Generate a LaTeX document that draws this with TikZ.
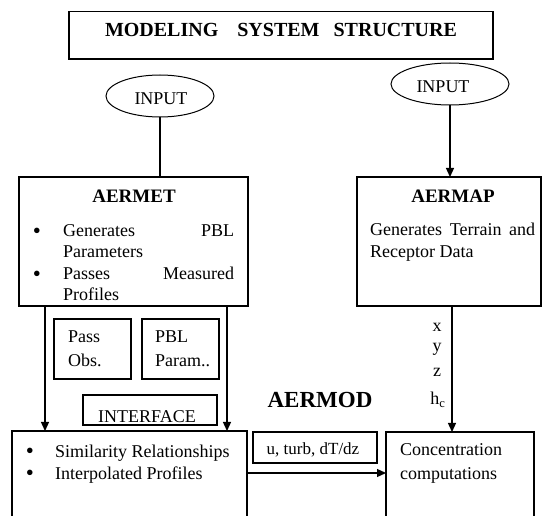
\documentclass[tikz,border=0pt]{standalone}
\usepackage{fontspec}
\setmainfont{Liberation Serif}
\usetikzlibrary{shapes.geometric,arrows.meta}
\begin{document}
\begin{tikzpicture}[x=1pt,y=-1pt,
  box/.style={draw, line width=1.4pt, inner sep=0pt, outer sep=0pt, anchor=north west},
  ell/.style={draw, ellipse, line width=1pt, inner sep=0pt, outer sep=0pt},
  conn/.style={line width=1.3pt},
  arr/.style={line width=1.3pt, -{Triangle[length=9pt,width=8pt]}},
  txt/.style={inner sep=0pt, anchor=base west, font=\fontsize{18}{21}\selectfont},
  ctxt/.style={inner sep=0pt, anchor=base, font=\fontsize{18}{21}\selectfont},
  btxt/.style={inner sep=0pt, anchor=base, font=\fontsize{19}{22}\selectfont\bfseries},
  bul/.style={inner sep=0pt, anchor=base, font=\fontsize{23}{21}\selectfont}]
\useasboundingbox (0,0) rectangle (542,516);
\clip (0,0) rectangle (542,516);
% boxes
\node[box, minimum width=424pt, minimum height=47.5pt] (title) at (69,11.5) {};
\node[box, minimum width=229pt, minimum height=129pt] (aermet) at (19,177) {};
\node[box, minimum width=184pt, minimum height=129pt] (aermap) at (357,177) {};
\node[box, minimum width=77pt, minimum height=60pt] (pass) at (54,319) {};
\node[box, minimum width=77pt, minimum height=60pt] (pbl) at (142,319) {};
\node[box, minimum width=134pt, minimum height=30pt] (iface) at (83,395) {};
\node[box, minimum width=235pt, minimum height=110pt] (sim) at (12,431) {};
\node[box, minimum width=124pt, minimum height=31pt] (uturb) at (253,432) {};
\node[box, minimum width=148pt, minimum height=110pt] (conc) at (386,432) {};
\node[ell, minimum width=108pt, minimum height=42pt] (in1) at (160,96) {};
\node[ell, minimum width=118pt, minimum height=42pt] (in2) at (450,84) {};
% texts
\node[inner sep=0pt, anchor=base, font=\fontsize{20}{24}\selectfont\bfseries] (ttl) at (281,37)
  {MODELING\hspace{19pt}SYSTEM\hspace{14pt}STRUCTURE};
\node[ctxt] (in1t) at (161,105) {INPUT};
\node[ctxt] (in2t) at (443,93) {INPUT};
\node[btxt] (aermett) at (134,203) {AERMET};
\node[bul] (b1) at (37,239) {\textbullet};
\node[txt] (g1) at (63,237) {\makebox[171pt][s]{Generates PBL}};
\node[txt] (g2) at (63,258) {Parameters};
\node[bul] (b2) at (37,282) {\textbullet};
\node[txt] (g3) at (63,280) {\makebox[171pt][s]{Passes Measured}};
\node[txt] (g4) at (63,301) {Profiles};
\node[txt] (p1) at (68,343) {Pass};
\node[txt] (p2) at (68,367) {Obs.};
\node[txt] (q1) at (155,343) {PBL};
\node[txt] (q2) at (155,367) {Param..};
\begin{scope}
  \clip (84,396) rectangle (216,422.5);
  \node[ctxt] (ifacet) at (147,423) {INTERFACE};
\end{scope}
\node[btxt, font=\fontsize{23}{26}\selectfont\bfseries] (aermod) at (320,408) {AERMOD};
\node[ctxt, font=\fontsize{17}{20}\selectfont] (ut) at (313,455) {u, turb, dT/dz};
\node[bul] (b3) at (30,459) {\textbullet};
\node[txt] (s1) at (55,457) {Similarity Relationships};
\node[bul] (b4) at (30,481) {\textbullet};
\node[txt] (s2) at (55,479) {Interpolated Profiles};
\node[txt] (c1) at (400,456) {Concentration};
\node[txt] (c2) at (400,480) {computations};
\node[btxt] (aermapt) at (453,203) {AERMAP};
\node[txt] (m1) at (370,236) {\makebox[165pt][s]{Generates Terrain and}};
\node[txt] (m2) at (370,258) {Receptor Data};
\node[ctxt] (lx) at (437,332) {x};
\node[ctxt] (ly) at (437,352) {y};
\node[ctxt] (lz) at (437,377) {z};
\node[ctxt] (lh) at (438,405) {h\textsubscript{c}};
% connectors
\draw[conn] (in1.south) -- (in1.south |- aermet.north);
\draw[arr] (in2.south) -- (in2.south |- aermap.north);
\draw[arr] ([xshift=26pt]aermet.south west) -- ([xshift=26pt]aermet.south west |- sim.north);
\draw[arr] ([xshift=-21pt]aermet.south east) -- ([xshift=-21pt]aermet.south east |- sim.north);
\draw[arr] ([xshift=3pt]aermap.south) -- ([xshift=3pt]aermap.south |- conc.north);
\draw[arr] ([yshift=-42pt]sim.north east) -- ([yshift=-42pt]sim.north east -| conc.west);
\end{tikzpicture}
\end{document}
